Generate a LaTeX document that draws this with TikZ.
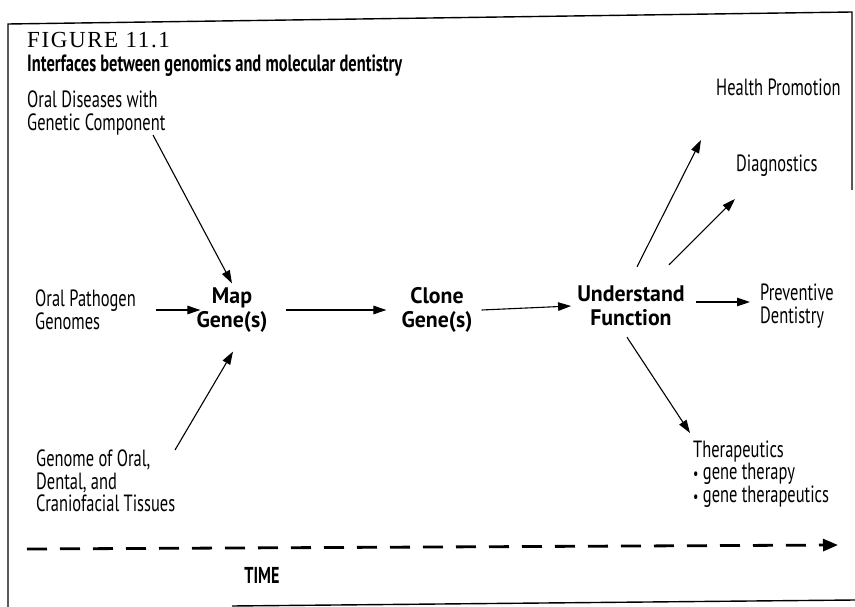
\documentclass[tikz,border=0pt]{standalone}
\usepackage{fontspec}
\setmainfont{PT Sans}
\newfontfamily\regf[FakeStretch=0.7]{PT Sans}
\newfontfamily\bldf[FakeStretch=0.97]{PT Sans}
\newfontfamily\ttlf[FakeStretch=0.7]{PT Sans}
\newfontfamily\figfont[LetterSpace=7]{Liberation Serif}
\usetikzlibrary{arrows.meta}
\begin{document}
\begin{tikzpicture}[x=1pt,y=-1pt,
  lbl/.style={inner sep=0pt, align=left, font=\regf\fontsize{23.5}{22.5}\selectfont},
  bld/.style={inner sep=0pt, align=center, font=\bldf\bfseries\fontsize{22.5}{24}\selectfont},
  dot/.style={font=\fontsize{17}{17}\selectfont},
  arr/.style={line width=1.1pt, -{Triangle[length=13pt,width=8.5pt]}},
  frame/.style={line width=1.4pt}]
\useasboundingbox (0,0) rectangle (855,607);
% frame
\draw[frame] (8,607) -- (8,24) -- (852,12) -- (852,190);
\draw[frame] (232,606) -- (855,600);
% titles
\node[inner sep=0pt, anchor=base west, font=\figfont\fontsize{23}{24}\selectfont] (fig) at (27,48) {FIGURE 11.1};
\node[inner sep=0pt, anchor=base west, font=\ttlf\bfseries\fontsize{23.5}{24}\selectfont] (ttl) at (27,72) {Interfaces between genomics and molecular dentistry};
% labels
\node[lbl, anchor=west] (dis) at (27,113) {Oral Diseases with\\Genetic Component};
\node[lbl, anchor=west] (path) at (35,310) {Oral Pathogen\\Genomes};
\node[bld] (map) at (232,310) {Map\\Gene(s)};
\node[bld] (clone) at (437,310) {Clone\\Gene(s)};
\node[bld] (und) at (631,306) {Understand\\Function};
\node[lbl, anchor=west] (prev) at (760,306) {Preventive\\Dentistry};
\node[lbl, anchor=west] (health) at (716,87) {Health Promotion};
\node[lbl, anchor=west] (diag) at (736,166) {Diagnostics};
\node[lbl, anchor=west] (ther) at (693,474) {Therapeutics\\{\fontsize{17}{17}\selectfont\textbullet}\ gene therapy\\{\fontsize{17}{17}\selectfont\textbullet}\ gene therapeutics};
\node[lbl, anchor=west] (gen) at (36,481) {Genome of Oral,\\Dental, and\\Craniofacial Tissues};
\node[inner sep=0pt, font=\ttlf\bfseries\fontsize{23}{24}\selectfont] (time) at (262,575) {TIME};
% connectors
\draw[arr] ([xshift=126pt,yshift=-22pt]dis.west) -- ([yshift=4pt]map.north);
\draw[arr] ([xshift=20pt]path.east) -- ([xshift=4pt]map.west);
\draw[arr] ([xshift=18pt]map.east) -- ([xshift=-15pt]clone.west);
\draw[arr] ([xshift=9pt]clone.east) -- ([xshift=-6pt]und.west);
\draw[arr] ([xshift=11pt,yshift=4pt]und.east) -- ([xshift=-10pt,yshift=4pt]prev.west);
\draw[arr] ([xshift=6pt,yshift=19pt]und.north) -- ([xshift=-15pt,yshift=-53pt]health.west);
\draw[arr] ([xshift=38pt,yshift=21pt]und.north) -- ([xshift=-1pt,yshift=-33pt]diag.west);
\draw[arr] ([xshift=-4pt,yshift=-11pt]und.south) -- ([xshift=-3pt,yshift=41pt]ther.west);
\draw[arr] ([xshift=139pt,yshift=31pt]gen.west) -- ([xshift=1pt,yshift=-19pt]map.south);
% time axis
\coordinate (t0) at (27,549);
\coordinate (t1) at (838,545);
\draw[line width=2.8pt, dash pattern=on 20pt off 13pt, -{Triangle[length=15pt,width=12pt]}] (t0) -- (t1);
\end{tikzpicture}
\end{document}
